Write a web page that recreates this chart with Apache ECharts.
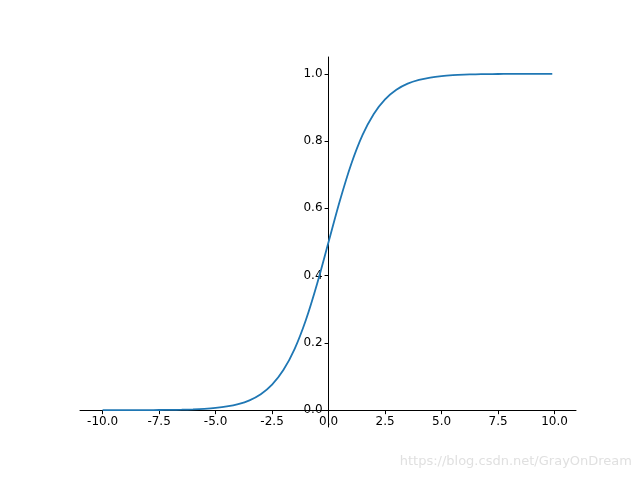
<!DOCTYPE html>
<html>
<head>
  <meta charset="utf-8">
  <title>sigmoid</title>
  <script src="https://cdn.jsdelivr.net/npm/echarts@6/dist/echarts.min.js"></script>
  <style>html,body{margin:0;background:#fff;}</style>
</head>
<body>
<div id="chart" style="width:640px;height:480px;"></div>
<script>
  // values
  let xs = [-10, -9.5, -9, -8.5, -8, -7.5, -7, -6.5, -6, -5.5, -5, -4.5, -4, -3.5, -3, -2.5, -2, -1.5, -1, -0.5,
            0, 0.5, 1, 1.5, 2, 2.5, 3, 3.5, 4, 4.5, 5, 5.5, 6, 6.5, 7, 7.5, 8, 8.5, 9, 9.5, 9.9];
  let ys = [0.00005, 0.00007, 0.00012, 0.0002, 0.0003, 0.0006, 0.0009, 0.0015, 0.0025, 0.0041, 0.0067, 0.011, 0.018, 0.0293, 0.0474, 0.0759, 0.1192, 0.1824, 0.2689, 0.3775,
            0.5, 0.6225, 0.7311, 0.8176, 0.8808, 0.9241, 0.9526, 0.9707, 0.982, 0.989, 0.9933, 0.9959, 0.9975, 0.9985, 0.9991, 0.9994, 0.9997, 0.9998, 0.9999, 0.9999, 0.99995];
  let xTicks = [-10, -7.5, -5, -2.5, 0, 2.5, 5, 7.5, 10];
  let yTicks = [0, 0.2, 0.4, 0.6, 0.8, 1.0];

  let W = 640, H = 480, L = 80, R = 64, T = 57, B = 53;
  let xMin = -11, xMax = 10.95, yMin = -0.05, yMax = 1.05;
  // spines sit on the zero lines, like matplotlib's set_position('zero')
  let yOff = -(W - L - R) * (0 - xMin) / (xMax - xMin);
  let xOff = -(H - T - B) * (0 - yMin) / (yMax - yMin);

  let chart = echarts.init(document.getElementById('chart'));
  let font = {fontFamily: 'DejaVu Sans', fontSize: 12, color: '#000'};
  chart.setOption({
    animation: false,
    grid: {left: L, right: R, top: T, bottom: B},
    xAxis: {
      type: 'value', min: xMin, max: xMax, offset: xOff,
      splitLine: {show: false},
      axisLine: {onZero: false, lineStyle: {color: '#000'}},
      axisTick: {customValues: xTicks, length: 4, lineStyle: {color: '#000'}},
      axisLabel: Object.assign({customValues: xTicks, margin: 6, formatter: v => v.toFixed(1)}, font)
    },
    yAxis: {
      type: 'value', min: yMin, max: yMax, offset: yOff,
      splitLine: {show: false},
      axisLine: {onZero: false, lineStyle: {color: '#000'}},
      axisTick: {customValues: yTicks, length: 4, lineStyle: {color: '#000'}},
      axisLabel: Object.assign({customValues: yTicks, margin: 6, formatter: v => v.toFixed(1)}, font)
    },
    series: [{
      type: 'line',
      data: xs.map((x, i) => [x, ys[i]]),
      smooth: 0.3,
      showSymbol: false,
      lineStyle: {color: '#1f77b4', width: 1.8}
    }],
    graphic: [{
      type: 'text', right: 8, bottom: 12,
      style: {text: 'https://blog.csdn.net/GrayOnDream', fill: '#e0e0e0', fontFamily: 'DejaVu Sans', fontSize: 13}
    }]
  });
</script>
</body>
</html>
